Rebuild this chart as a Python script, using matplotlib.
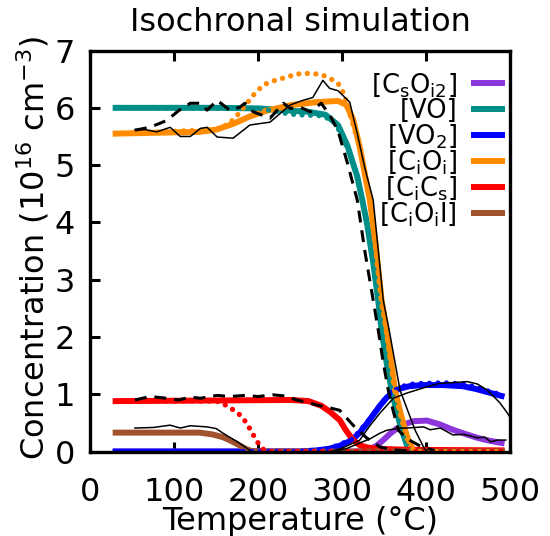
import matplotlib
matplotlib.use('Agg')
import matplotlib.pyplot as plt

# Simulation curves (thick solid)
vo_T = [30, 150, 200, 230, 260, 280, 295, 306, 318, 324, 330, 337, 343, 347, 353, 359, 365, 371, 378, 385, 490]
vo_c = [6.0, 6.0, 5.99, 5.96, 5.93, 5.88, 5.7, 5.35, 4.8, 4.39, 3.95, 3.3, 2.64, 2.12, 1.55, 1.07, 0.7, 0.37, 0.08, 0.0, 0.0]

cioi_T = [30, 130, 150, 170, 190, 210, 240, 270, 295, 305, 313, 321, 333, 340, 347, 353, 358, 363, 369, 375, 380, 386, 490]
cioi_c = [5.55, 5.58, 5.62, 5.72, 5.85, 5.95, 6.05, 6.1, 6.12, 6.05, 5.8, 5.31, 4.39, 3.6, 2.64, 2.12, 1.6, 1.07, 0.7, 0.375, 0.15, 0.0, 0.0]

vo2_T = [30, 250, 270, 285, 297, 305, 313, 321, 329, 337, 345, 353, 361, 369, 380, 395, 420, 444, 460, 475, 490]
vo2_c = [0, 0, 0.02, 0.05, 0.1, 0.15, 0.22, 0.33, 0.48, 0.64, 0.8, 0.94, 1.04, 1.1, 1.14, 1.16, 1.16, 1.14, 1.09, 1.03, 0.97]

csoi2_T = [30, 315, 325, 333, 341, 349, 357, 365, 373, 385, 401, 417, 432, 446, 461, 475, 490]
csoi2_c = [0, 0, 0.01, 0.04, 0.1, 0.2, 0.31, 0.4, 0.47, 0.53, 0.54, 0.47, 0.38, 0.31, 0.24, 0.19, 0.15]

cics_T = [30, 240, 260, 275, 285, 297, 305, 313, 321, 330, 340, 357, 380, 490]
cics_c = [0.88, 0.9, 0.88, 0.8, 0.7, 0.55, 0.36, 0.2, 0.11, 0.07, 0.05, 0.04, 0.03, 0.02]

cioii_T = [30, 130, 145, 158, 167, 175, 181, 186, 192, 200, 490]
cioii_c = [0.33, 0.33, 0.3, 0.25, 0.19, 0.13, 0.08, 0.04, 0.01, 0.0, 0.0]

# Second simulation variant (dotted)
cioi_dot_T = [30, 150, 165, 175, 185, 194, 206, 218, 230, 246, 256, 265, 277, 287, 295, 302, 310, 316, 321, 333, 340, 347, 353, 358, 363, 369, 375, 380, 386, 490]
cioi_dot_c = [5.55, 5.62, 5.72, 5.87, 6.05, 6.22, 6.4, 6.47, 6.52, 6.59, 6.6, 6.6, 6.57, 6.5, 6.43, 6.25, 5.85, 5.55, 5.31, 4.39, 3.6, 2.64, 2.12, 1.6, 1.07, 0.7, 0.375, 0.15, 0.0, 0.0]

vo_dot_T = [30, 200, 220, 234, 246, 262, 277, 290, 300, 310, 318, 324, 330, 337, 343, 347, 353, 359, 365, 371, 378, 385, 490]
vo_dot_c = [6.0, 5.99, 5.94, 5.9, 5.88, 5.87, 5.86, 5.76, 5.52, 5.15, 4.8, 4.39, 3.95, 3.3, 2.64, 2.12, 1.55, 1.07, 0.7, 0.37, 0.08, 0.0, 0.0]

vo2_dot_T = [30, 250, 285, 313, 337, 353, 369, 385, 400, 420, 444, 460, 475, 490]
vo2_dot_c = [0, 0, 0.05, 0.22, 0.64, 0.96, 1.13, 1.18, 1.19, 1.2, 1.18, 1.12, 1.05, 0.99]

cics_dot_T = [30, 150, 158, 164, 170, 176, 181, 186, 191, 196, 201, 206, 212, 490]
cics_dot_c = [0.88, 0.88, 0.84, 0.78, 0.73, 0.67, 0.59, 0.5, 0.37, 0.24, 0.12, 0.04, 0.0, 0.0]

# Experimental data (black)
vo_exp_T = [53, 71, 91, 105, 119, 131, 139, 151, 166, 178, 184, 194, 214, 230, 238, 250, 262, 275, 285, 295, 306, 318, 327, 337, 343, 349, 355, 361, 367, 380, 395, 410]
vo_exp_c = [5.61, 5.66, 5.78, 5.95, 6.08, 6.08, 5.96, 6.13, 5.96, 6.01, 6.08, 5.93, 5.82, 6.08, 5.99, 6.01, 5.93, 6.08, 5.88, 5.6, 5.05, 4.39, 3.5, 2.64, 2.12, 1.55, 1.07, 0.7, 0.37, 0.2, 0.08, 0.02]

cics_exp_T = [53, 71, 91, 105, 119, 131, 151, 166, 184, 200, 217, 232, 246, 258, 270, 283, 297, 313, 329, 345, 360, 380]
cics_exp_c = [0.9, 0.96, 0.93, 0.9, 0.95, 0.93, 0.98, 0.96, 0.98, 0.96, 0.99, 0.97, 0.9, 0.86, 0.81, 0.77, 0.72, 0.46, 0.24, 0.08, 0.03, 0.01]

cioi_exp_T = [53, 65, 79, 95, 107, 119, 131, 139, 151, 170, 190, 214, 226, 238, 253, 265, 277, 285, 295, 309, 318, 327, 337, 349, 356, 369, 387, 398, 402]
cioi_exp_c = [5.62, 5.62, 5.58, 5.66, 5.5, 5.5, 5.64, 5.66, 5.49, 5.47, 5.7, 5.75, 5.9, 6.05, 6.13, 6.18, 6.48, 6.34, 6.3, 6.1, 5.55, 4.95, 4.39, 2.64, 2.12, 1.07, 0.37, 0.05, 0.0]

vo2_exp_T = [286, 300, 321, 333, 345, 361, 377, 401, 416, 429, 449, 461, 472, 480, 488, 497, 500]
vo2_exp_c = [0.0, 0.06, 0.2, 0.45, 0.67, 0.93, 1.02, 1.13, 1.19, 1.2, 1.22, 1.18, 1.08, 0.97, 0.85, 0.67, 0.6]

csoi2_exp_T = [290, 305, 321, 333, 345, 353, 369, 377, 397, 405, 417, 432, 445, 461, 470, 477, 485, 495]
csoi2_exp_c = [0.0, 0.05, 0.15, 0.22, 0.32, 0.37, 0.41, 0.41, 0.43, 0.38, 0.41, 0.29, 0.3, 0.24, 0.25, 0.17, 0.2, 0.2]

cioii_exp_T = [53, 75, 95, 107, 119, 139, 150, 158, 167, 175, 186, 192]
cioii_exp_c = [0.41, 0.42, 0.46, 0.41, 0.45, 0.43, 0.4, 0.32, 0.24, 0.17, 0.06, 0.0]

# Legend
labels = [r'[C$_{\rm s}$O$_{\rm i2}$]', '[VO]', r'[VO$_{2}$]', r'[C$_{\rm i}$O$_{\rm i}$]',
          r'[C$_{\rm i}$C$_{\rm s}$]', r'[C$_{\rm i}$O$_{\rm i}$I]']
colors = ['#8c35dc', '#008e88', '#0000ff', '#ff8c00', '#ff0000', '#a0522d']

plt.rcParams['font.family'] = 'DejaVu Sans'
plt.rcParams['mathtext.fontset'] = 'dejavusans'

fig = plt.figure(figsize=(5.5, 5.36), dpi=100)
ax = fig.add_axes([0.1645, 0.1576, 0.7627, 0.7481])

lw_sim = 4.3
dots = (0, (0.01, 1.6))

ax.plot(csoi2_T, csoi2_c, color=colors[0], lw=lw_sim, zorder=2)
ax.plot(vo_T, vo_c, color=colors[1], lw=lw_sim, zorder=2)
ax.plot(vo2_T, vo2_c, color=colors[2], lw=lw_sim, zorder=2)
ax.plot(cioi_T, cioi_c, color=colors[3], lw=lw_sim, zorder=2)
ax.plot(cics_T, cics_c, color=colors[4], lw=lw_sim, zorder=2)
ax.plot(cioii_T, cioii_c, color=colors[5], lw=lw_sim, zorder=2)

for T, c, col in [(vo_dot_T, vo_dot_c, colors[1]), (vo2_dot_T, vo2_dot_c, colors[2]),
                  (cioi_dot_T, cioi_dot_c, colors[3]), (cics_dot_T, cics_dot_c, colors[4])]:
    ax.plot(T, c, color=col, lw=3.8, ls=dots, dash_capstyle='round', zorder=3)

ax.plot(vo_exp_T, vo_exp_c, color='black', lw=2.2, ls=(0, (3.9, 2.6)), zorder=4)
ax.plot(cics_exp_T, cics_exp_c, color='black', lw=2.2, ls=(0, (3.9, 2.6)), zorder=4)
for T, c in [(cioi_exp_T, cioi_exp_c), (vo2_exp_T, vo2_exp_c),
             (csoi2_exp_T, csoi2_exp_c), (cioii_exp_T, cioii_exp_c)]:
    ax.plot(T, c, color='black', lw=1.1, zorder=4)

ax.set_xlim(0, 500)
ax.set_ylim(0, 7)
ax.set_xticks([0, 100, 200, 300, 400, 500])
ax.set_yticks(range(8))
ax.tick_params(axis='x', direction='in', top=True, length=7.2, width=2.2, labelsize=23, pad=18)
ax.tick_params(axis='y', direction='in', right=False, length=7.2, width=2.2, labelsize=23, pad=11)
for s in ax.spines.values():
    s.set_linewidth(2.4)
    s.set_zorder(5)

# manual right-aligned legend, gnuplot style
for i, (lab, col) in enumerate(zip(labels, colors)):
    yl = 0.919 - i * 0.0648
    ax.text(0.874, yl - 0.0224, lab, transform=ax.transAxes, ha='right', va='baseline', fontsize=18.5)
    ax.plot([0.914, 0.981], [yl, yl], transform=ax.transAxes, color=col, lw=4.3, clip_on=False)

fig.text(0.5459, 0.942, 'Isochronal simulation', ha='center', va='baseline', fontsize=23)
fig.text(0.5459, 0.0112, 'Temperature (°C)', ha='center', va='baseline', fontsize=23)
fig.text(0.0818, 0.537, r'Concentration (10$^{16}$ cm$^{-3}$)', rotation=90, rotation_mode='anchor',
         ha='center', va='baseline', fontsize=23)

fig.savefig('out.png', dpi=100)
